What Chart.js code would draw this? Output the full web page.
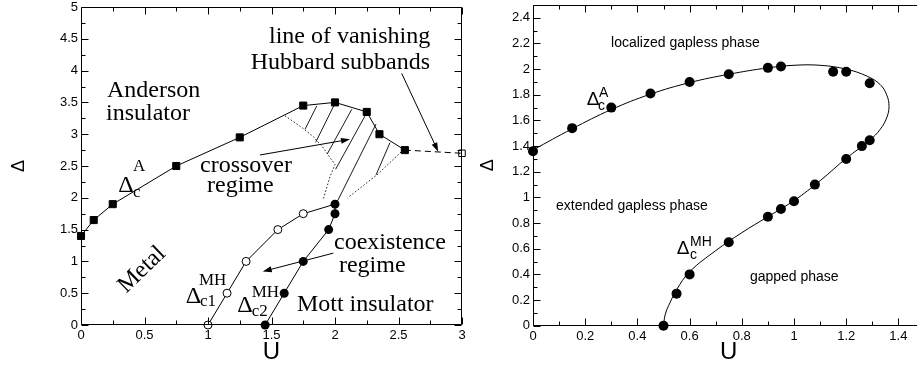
<!DOCTYPE html>
<html><head><meta charset="utf-8">
<script src="https://cdn.jsdelivr.net/npm/chart.js@4.4.1/dist/chart.umd.min.js"></script>
<style>
html,body{margin:0;padding:0;background:#fff;overflow:hidden;width:917px;height:365px;position:relative;}
#c1{position:absolute;left:0;top:0;}
#c2{position:absolute;left:480px;top:0;}
</style></head><body>
<canvas id="c1" width="480" height="365"></canvas>
<canvas id="c2" width="460" height="365"></canvas>
<script>
// ---------------- LEFT PANEL DATA ----------------
const andersonU = [0, 0.1, 0.25, 0.75, 1.25, 1.75, 2.0, 2.25, 2.35, 2.55];
const andersonD = [1.4, 1.65, 1.9, 2.5, 2.95, 3.45, 3.5, 3.35, 3.0, 2.75];
const vanishU = [2.55, 3.0];
const vanishD = [2.75, 2.7];
const c1U = [1.0, 1.15, 1.3, 1.55, 1.75];
const c1D = [0, 0.5, 1.0, 1.5, 1.75];
const c2U = [1.45, 1.6, 1.75, 1.95, 2.0, 2.0];
const c2D = [0, 0.5, 1.0, 1.5, 1.75, 1.9];
const edge1U = [1.606, 1.75, 1.83, 1.91, 2.0, 1.96, 1.91];
const edge1D = [3.29, 3.09, 2.96, 2.78, 2.52, 2.33, 1.99];
const edge2U = [2.52, 2.33, 2.10];
const edge2D = [2.72, 2.36, 2.0];
// hatch segments: [u1, d1, u2, d2]
const hatchSegments = [
  [1.764, 3.077, 1.856, 3.443],
  [1.848, 2.873, 1.992, 3.454],
  [1.939, 2.689, 2.132, 3.391],
  [2.005, 2.449, 2.236, 3.286],
  [2.02, 1.95, 2.323, 3.16],
  [2.323, 2.36, 2.433, 2.867]
];
const leftXTicks = [0, 0.5, 1, 1.5, 2, 2.5, 3];
const leftXTickLabels = ['0', '0.5', '1', '1.5', '2', '2.5', '3'];
const leftYTicks = [0, 0.5, 1, 1.5, 2, 2.5, 3, 3.5, 4, 4.5, 5];
const leftYTickLabels = ['0', '0.5', '1', '1.5', '2', '2.5', '3', '3.5', '4', '4.5', '5'];

// ---------------- RIGHT PANEL DATA ----------------
const dotsU = [0, 0.15, 0.3, 0.45, 0.6, 0.75, 0.9, 0.95, 1.15, 1.2, 1.29, 1.29, 1.26, 1.2, 1.08, 1.0, 0.95, 0.9, 0.75, 0.6, 0.55, 0.5];
const dotsD = [1.36, 1.54, 1.70, 1.81, 1.90, 1.96, 2.01, 2.02, 1.98, 1.98, 1.89, 1.445, 1.40, 1.30, 1.10, 0.97, 0.91, 0.85, 0.65, 0.40, 0.25, 0];
const curveU = [0, 0.15, 0.3, 0.45, 0.6, 0.75, 0.9, 1.0, 1.1, 1.2, 1.28, 1.33, 1.355, 1.364, 1.355, 1.33, 1.29, 1.2, 1.1, 1.0, 0.9, 0.8, 0.7, 0.6, 0.55, 0.525, 0.507, 0.5];
const curveD = [1.37, 1.535, 1.685, 1.805, 1.895, 1.96, 2.01, 2.03, 2.03, 2.0, 1.945, 1.88, 1.80, 1.71, 1.62, 1.53, 1.445, 1.305, 1.13, 0.975, 0.85, 0.725, 0.585, 0.42, 0.28, 0.18, 0.09, 0];
const rightXTicks = [0, 0.2, 0.4, 0.6, 0.8, 1, 1.2, 1.4];
const rightXTickLabels = ['0', '0.2', '0.4', '0.6', '0.8', '1', '1.2', '1.4'];
const rightYTicks = [0, 0.2, 0.4, 0.6, 0.8, 1, 1.2, 1.4, 1.6, 1.8, 2, 2.2, 2.4];
const rightYTickLabels = ['0', '0.2', '0.4', '0.6', '0.8', '1', '1.2', '1.4', '1.6', '1.8', '2', '2.2', '2.4'];

const pts = (us, ds) => us.map((u, i) => ({x: u, y: ds[i]}));
const SERIF = '"Liberation Serif", "Times New Roman", serif';
const SANS = '"Liberation Sans", Arial, Helvetica, sans-serif';

// frame / tick settings per chart
const frameCfg = {
  c1: {xmin: 0, xmax: 3, xminor: 0.25, xmajor: 0.5, ymin: 0, ymax: 5, yminor: 0.25, ymajor: 0.5, major: 7, minor: 4},
  c2: {xmin: 0, xmax: 1.5, xminor: 0.1, xmajor: 0.2, ymin: 0, ymax: 2.5, yminor: 0.1, ymajor: 0.2, major: 7, minor: 4}
};

function drawFrame(chart, ctx) {
  const o = frameCfg[chart.canvas.id];
  const a = chart.chartArea, x = chart.scales.x, y = chart.scales.y;
  const c = v => Math.round(v) + 0.5;
  ctx.save();
  ctx.setLineDash([]);
  ctx.strokeStyle = '#000';
  ctx.lineWidth = 1;
  const L = c(a.left), R = c(a.right - 1), T = c(a.top), B = c(a.bottom - 1);
  ctx.beginPath();
  ctx.moveTo(L, T); ctx.lineTo(R, T); ctx.lineTo(R, B); ctx.lineTo(L, B); ctx.closePath();
  const isMajor = (v, m) => Math.abs(v / m - Math.round(v / m)) < 1e-6;
  const nx = Math.round((o.xmax - o.xmin) / o.xminor);
  for (let i = 0; i <= nx; i++) {
    const v = o.xmin + i * o.xminor;
    const len = isMajor(v, o.xmajor) ? o.major : o.minor;
    const px = c(x.getPixelForValue(v));
    ctx.moveTo(px, B); ctx.lineTo(px, B - len);
    ctx.moveTo(px, T); ctx.lineTo(px, T + len);
  }
  const ny = Math.round((o.ymax - o.ymin) / o.yminor);
  for (let i = 0; i <= ny; i++) {
    const v = o.ymin + i * o.yminor;
    const len = isMajor(v, o.ymajor) ? o.major : o.minor;
    const py = c(y.getPixelForValue(v));
    ctx.moveTo(L, py); ctx.lineTo(L + len, py);
    ctx.moveTo(R, py); ctx.lineTo(R - len, py);
  }
  ctx.stroke();
  ctx.restore();
}

const annotations = {
  id: 'annotations',
  afterDatasetsDraw(chart, args, o) {
    const {ctx, scales: {x, y}} = chart;
    drawFrame(chart, ctx);
    ctx.save();
    ctx.setLineDash([]);
    ctx.fillStyle = '#000';
    ctx.strokeStyle = '#000';
    (o.texts || []).forEach(t => {
      ctx.save();
      ctx.font = t.font;
      ctx.textAlign = t.align || 'left';
      ctx.textBaseline = t.baseline || 'alphabetic';
      ctx.translate(x.getPixelForValue(t.u), y.getPixelForValue(t.d));
      if (t.rot) ctx.rotate(t.rot * Math.PI / 180);
      ctx.fillText(t.text, 0, 0);
      ctx.restore();
    });
    (o.arrows || []).forEach(ar => {
      const x1 = x.getPixelForValue(ar.from[0]), y1 = y.getPixelForValue(ar.from[1]);
      const x2 = x.getPixelForValue(ar.to[0]), y2 = y.getPixelForValue(ar.to[1]);
      const ang = Math.atan2(y2 - y1, x2 - x1);
      const hl = 9, hw = 3;
      ctx.lineWidth = 1;
      ctx.beginPath();
      ctx.moveTo(x1, y1);
      ctx.lineTo(x2 - Math.cos(ang) * hl * 0.8, y2 - Math.sin(ang) * hl * 0.8);
      ctx.stroke();
      ctx.beginPath();
      ctx.moveTo(x2, y2);
      ctx.lineTo(x2 - Math.cos(ang) * hl - Math.sin(ang) * hw, y2 - Math.sin(ang) * hl + Math.cos(ang) * hw);
      ctx.lineTo(x2 - Math.cos(ang) * hl + Math.sin(ang) * hw, y2 - Math.sin(ang) * hl - Math.cos(ang) * hw);
      ctx.closePath();
      ctx.fill();
    });
    ctx.restore();
  }
};

function axisOpts(min, max, tickVals, tickLabels, fitProp, fitVal, title, extra) {
  return Object.assign({
    type: 'linear', min: min, max: max,
    grid: {display: false, drawTicks: false},
    border: {display: false},
    afterBuildTicks: s => { s.ticks = tickVals.map(v => ({value: v})); },
    afterFit: s => {
      s[fitProp] = fitVal;
      s.paddingTop = 0; s.paddingBottom = 0; s.paddingLeft = 0; s.paddingRight = 0;
    },
    ticks: {
      autoSkip: false, maxRotation: 0, color: '#000', padding: 3,
      font: {family: SANS, size: 13},
      callback: (v, i) => tickLabels[i]
    },
    title: title
  }, extra || {});
}

// ---------------- LEFT CHART ----------------
const line = (data, extra) => Object.assign({
  data: data, showLine: true, borderColor: '#000', borderWidth: 1,
  pointRadius: 0, pointHoverRadius: 0, clip: false, fill: false
}, extra);

const leftDatasets = [];
hatchSegments.forEach(s => leftDatasets.push(line([{x: s[0], y: s[1]}, {x: s[2], y: s[3]}], {borderWidth: 0.9})));
leftDatasets.push(line(pts(edge1U, edge1D), {borderDash: [1.5, 2], borderWidth: 0.9}));
leftDatasets.push(line(pts(edge2U, edge2D), {borderDash: [1.5, 2], borderWidth: 0.9}));
leftDatasets.push(line(pts(vanishU, vanishD), {
  borderDash: [6, 4],
  pointStyle: 'rect', pointRadius: [0, 4.6], pointBorderWidth: 1,
  pointBorderColor: '#000', pointBackgroundColor: 'rgba(0,0,0,0)'
}));
leftDatasets.push(line(pts(andersonU, andersonD), {
  pointStyle: 'rect', pointRadius: 5, pointBorderWidth: 1,
  pointBorderColor: '#000', pointBackgroundColor: '#000'
}));
leftDatasets.push(line(pts(c1U, c1D).concat([{x: c2U[c2U.length - 1], y: c2D[c2D.length - 1]}]), {
  pointStyle: 'circle', pointRadius: c1U.map(() => 4).concat([0]), pointBorderWidth: 1,
  pointBorderColor: '#000', pointBackgroundColor: '#fff'
}));
leftDatasets.push(line(pts(c2U, c2D), {
  pointStyle: 'circle', pointRadius: 4.5, pointBorderWidth: 0,
  pointBorderColor: '#000', pointBackgroundColor: '#000'
}));

const F24 = '24px ' + SERIF;
const F17 = '17px ' + SERIF;
new Chart(document.getElementById('c1'), {
  type: 'scatter',
  data: {datasets: leftDatasets},
  options: {
    responsive: false, animation: false, events: [],
    layout: {padding: {top: 7, right: 18, bottom: 0, left: 0}},
    plugins: {
      legend: {display: false}, tooltip: {enabled: false},
      annotations: {
        texts: [
          {text: 'Anderson', u: 0.205, d: 3.59, font: F24},
          {text: 'insulator', u: 0.197, d: 3.23, font: F24},
          {text: 'line of vanishing', u: 1.48, d: 4.44, font: F24},
          {text: 'Hubbard subbands', u: 1.336, d: 4.02, font: F24},
          {text: 'crossover', u: 0.937, d: 2.41, font: F24},
          {text: 'regime', u: 0.992, d: 2.09, font: F24},
          {text: 'coexistence', u: 1.992, d: 1.193, font: F24},
          {text: 'regime', u: 2.031, d: 0.84, font: F24},
          {text: 'Mott insulator', u: 1.70, d: 0.214, font: F24},
          {text: 'Metal', u: 0.48, d: 0.868, font: F24, align: 'center', baseline: 'middle', rot: -44},
          {text: 'Δ', u: 0.294, d: 2.09, font: F24},
          {text: 'A', u: 0.409, d: 2.423, font: F17},
          {text: 'c', u: 0.409, d: 2.014, font: F17},
          {text: 'Δ', u: 0.824, d: 0.35, font: F24},
          {text: 'MH', u: 0.929, d: 0.633, font: F17},
          {text: 'c1', u: 0.937, d: 0.303, font: F17},
          {text: 'Δ', u: 1.231, d: 0.209, font: F24},
          {text: 'MH', u: 1.344, d: 0.444, font: F17},
          {text: 'c2', u: 1.344, d: 0.146, font: F17}
        ],
        arrows: [
          {from: [2.525, 3.956], to: [2.813, 2.725]},
          {from: [1.409, 2.673], to: [2.118, 2.92]},
          {from: [1.987, 1.13], to: [1.431, 0.841]}
        ]
      }
    },
    scales: {
      x: axisOpts(0, 3, leftXTicks, leftXTickLabels, 'height', 40,
        {display: true, text: 'U', color: '#000', font: {family: SANS, size: 24, lineHeight: 1}, padding: {top: 0, bottom: 1}},
        {position: 'bottom'}),
      y: axisOpts(0, 5, leftYTicks, leftYTickLabels, 'width', 81,
        {display: true, text: 'Δ', color: '#000', font: {family: SANS, size: 18, lineHeight: 1}, padding: {top: 10, bottom: 0}},
        {position: 'left'})
    }
  },
  plugins: [annotations]
});

// ---------------- RIGHT CHART ----------------
const F14 = '14px ' + SANS;
const F19 = '19px ' + SANS;
new Chart(document.getElementById('c2'), {
  type: 'scatter',
  data: {datasets: [
    line(pts(curveU, curveD), {tension: 0.4}),
    {data: pts(dotsU, dotsD), showLine: false, pointStyle: 'circle', pointRadius: 5, pointHoverRadius: 5,
     pointBorderWidth: 0, pointBackgroundColor: '#000', clip: false}
  ]},
  options: {
    responsive: false, animation: false, events: [],
    layout: {padding: {top: 0, right: 15.5, bottom: 0, left: 0}},
    plugins: {
      legend: {display: false}, tooltip: {enabled: false},
      annotations: {
        texts: [
          {text: 'localized gapless phase', u: 0.299, d: 2.17, font: F14},
          {text: 'extended gapless phase', u: 0.088, d: 0.903, font: F14},
          {text: 'gapped phase', u: 0.831, d: 0.351, font: F14},
          {text: 'Δ', u: 0.206, d: 1.717, font: F19},
          {text: 'A', u: 0.253, d: 1.786, font: F14},
          {text: 'c', u: 0.249, d: 1.679, font: F14},
          {text: 'Δ', u: 0.551, d: 0.558, font: F19},
          {text: 'MH', u: 0.602, d: 0.619, font: F14},
          {text: 'c', u: 0.602, d: 0.52, font: F14}
        ]
      }
    },
    scales: {
      x: axisOpts(0, 1.5, rightXTicks, rightXTickLabels, 'height', 39.3,
        {display: true, text: 'U', color: '#000', font: {family: SANS, size: 24, lineHeight: 1}, padding: {top: 0, bottom: 1}},
        {position: 'bottom'}),
      y: axisOpts(0, 2.5, rightYTicks, rightYTickLabels, 'width', 53,
        {display: true, text: 'Δ', color: '#000', font: {family: SANS, size: 18, lineHeight: 1}, padding: {top: -1, bottom: 0}},
        {position: 'left'})
    }
  },
  plugins: [annotations]
});
</script>
</body></html>
